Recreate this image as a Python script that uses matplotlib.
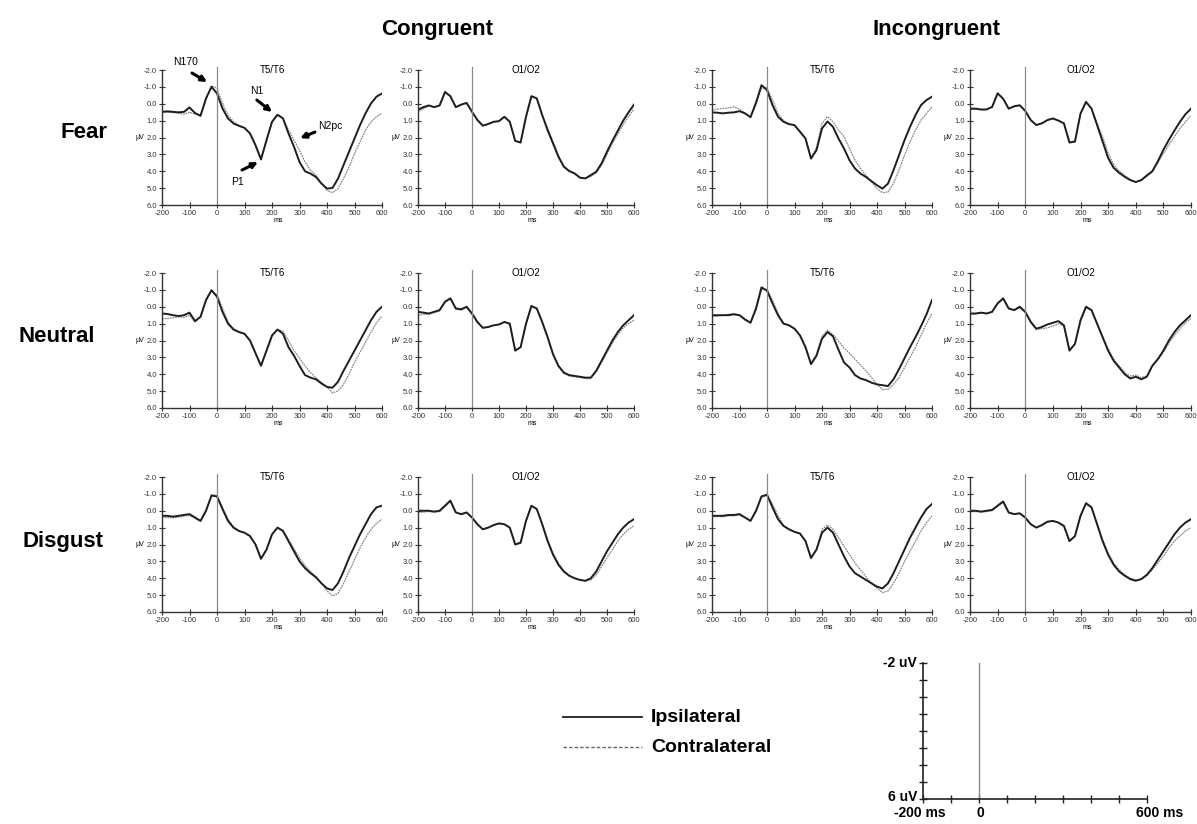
import numpy as np
import matplotlib.pyplot as plt
from matplotlib.lines import Line2D

plt.rcParams['font.family'] = ['Liberation Sans', 'DejaVu Sans']
plt.rcParams['axes.unicode_minus'] = False

# sample times (ms), one value every 20 ms
times_ms = list(range(-200, 601, 20))

# values in uV (negative is up)
# ---- Fear
fear_con_t56_ipsi = [0.48, 0.45, 0.48, 0.51, 0.48, 0.22, 0.55, 0.72, -0.32, -1.0, -0.61, 0.28, 0.87, 1.17, 1.31, 1.43, 1.76, 2.46, 3.3, 2.16, 1.07,
                     0.65, 0.87, 1.76, 2.55, 3.45, 4.0, 4.14, 4.34, 4.73, 5.03, 4.99, 4.44, 3.64, 2.85, 2.06, 1.27, 0.57, -0.02, -0.42, -0.61]
fear_con_t56_contra = [0.51, 0.5, 0.52, 0.56, 0.62, 0.5, 0.62, 0.63, -0.22, -1.07, -0.91, -0.02, 0.67, 1.07, 1.28, 1.42, 1.74, 2.42, 3.25, 2.2, 1.1,
                       0.66, 0.85, 1.56, 2.16, 2.75, 3.45, 3.94, 4.24, 4.73, 5.13, 5.27, 5.03, 4.44, 3.74, 2.95, 2.26, 1.56, 1.07, 0.77, 0.57]
fear_con_o12_ipsi = [0.35, 0.2, 0.1, 0.2, 0.1, -0.7, -0.45, 0.2, 0.05, -0.05, 0.47, 0.96, 1.3, 1.2, 1.07, 1.03, 0.77, 1.07, 2.2, 2.3, 0.77,
                     -0.45, -0.32, 0.67, 1.56, 2.35, 3.14, 3.73, 3.99, 4.13, 4.38, 4.42, 4.23, 4.03, 3.53, 2.84, 2.2, 1.6, 1.0, 0.5, 0.05]
fear_con_o12_contra = [0.45, 0.3, 0.12, 0.2, 0.12, -0.65, -0.42, 0.22, 0.07, -0.02, 0.5, 0.98, 1.3, 1.2, 1.08, 1.03, 0.8, 1.08, 2.2, 2.28, 0.8,
                       -0.42, -0.3, 0.65, 1.46, 2.25, 3.05, 3.68, 3.97, 4.13, 4.4, 4.44, 4.3, 4.1, 3.65, 3.0, 2.35, 1.8, 1.25, 0.75, 0.3]
fear_inc_t56_ipsi = [0.51, 0.53, 0.57, 0.53, 0.51, 0.44, 0.57, 0.8, -0.06, -1.1, -0.81, 0.08, 0.77, 1.07, 1.21, 1.27, 1.66, 2.06, 3.25, 2.75, 1.47,
                     1.05, 1.37, 2.06, 2.65, 3.35, 3.84, 4.14, 4.34, 4.59, 4.83, 5.03, 4.73, 3.94, 3.05, 2.16, 1.37, 0.67, 0.08, -0.22, -0.42]
fear_inc_t56_contra = [0.38, 0.32, 0.28, 0.24, 0.18, 0.32, 0.57, 0.78, 0.0, -0.91, -0.95, -0.22, 0.57, 1.0, 1.2, 1.25, 1.62, 2.05, 3.2, 2.6, 1.17,
                       0.77, 1.07, 1.56, 1.96, 2.65, 3.35, 3.84, 4.24, 4.63, 5.03, 5.27, 5.23, 4.73, 3.94, 3.05, 2.26, 1.56, 0.97, 0.57, 0.18]
fear_inc_o12_ipsi = [0.29, 0.29, 0.34, 0.34, 0.19, -0.62, -0.3, 0.29, 0.15, 0.09, 0.42, 0.97, 1.26, 1.16, 0.97, 0.87, 1.0, 1.16, 2.3, 2.24, 0.58,
                     -0.11, 0.29, 1.26, 2.24, 3.21, 3.8, 4.09, 4.33, 4.52, 4.64, 4.52, 4.25, 4.0, 3.41, 2.73, 2.14, 1.59, 1.07, 0.62, 0.29]
fear_inc_o12_contra = [0.35, 0.32, 0.36, 0.34, 0.2, -0.6, -0.28, 0.3, 0.17, 0.1, 0.45, 0.98, 1.27, 1.17, 0.98, 0.88, 1.0, 1.17, 2.28, 2.2, 0.6,
                       -0.1, 0.28, 1.16, 1.95, 2.92, 3.6, 4.0, 4.25, 4.5, 4.64, 4.55, 4.3, 4.05, 3.5, 2.96, 2.43, 1.95, 1.46, 1.07, 0.68]
# ---- Neutral
neu_con_t56_ipsi = [0.4, 0.43, 0.5, 0.55, 0.5, 0.35, 0.85, 0.6, -0.4, -0.98, -0.6, 0.3, 1.0, 1.35, 1.5, 1.6, 2.0, 2.75, 3.5, 2.6, 1.7,
                    1.35, 1.6, 2.4, 2.9, 3.5, 4.05, 4.2, 4.3, 4.55, 4.75, 4.8, 4.45, 3.8, 3.2, 2.6, 2.0, 1.4, 0.8, 0.3, 0.0]
neu_con_t56_contra = [0.7, 0.7, 0.65, 0.6, 0.63, 0.5, 0.9, 0.62, -0.35, -0.95, -0.7, 0.1, 0.9, 1.3, 1.48, 1.6, 2.0, 2.75, 3.45, 2.65, 1.75,
                      1.35, 1.45, 2.0, 2.6, 3.05, 3.5, 3.9, 4.2, 4.5, 4.75, 5.1, 5.0, 4.6, 4.0, 3.3, 2.7, 2.1, 1.5, 0.95, 0.55]
neu_con_o12_ipsi = [0.3, 0.35, 0.4, 0.3, 0.2, -0.3, -0.5, 0.1, 0.15, 0.0, 0.4, 0.9, 1.25, 1.2, 1.1, 1.05, 0.9, 1.0, 2.6, 2.4, 1.0,
                    -0.05, 0.1, 0.9, 1.8, 2.8, 3.5, 3.9, 4.05, 4.1, 4.15, 4.2, 4.2, 3.8, 3.2, 2.6, 2.0, 1.5, 1.1, 0.8, 0.5]
neu_con_o12_contra = [0.5, 0.45, 0.45, 0.35, 0.25, -0.25, -0.45, 0.15, 0.2, 0.05, 0.45, 0.95, 1.25, 1.2, 1.1, 1.05, 0.92, 1.05, 2.55, 2.4, 1.05,
                      0.0, 0.15, 0.95, 1.85, 2.85, 3.55, 3.95, 4.1, 4.15, 4.2, 4.25, 4.25, 3.85, 3.3, 2.7, 2.15, 1.65, 1.25, 1.0, 0.8]
neu_inc_t56_ipsi = [0.5, 0.5, 0.5, 0.5, 0.45, 0.5, 0.75, 0.95, 0.1, -1.15, -0.95, -0.2, 0.5, 1.0, 1.1, 1.3, 1.7, 2.4, 3.4, 2.9, 1.9,
                    1.5, 1.75, 2.55, 3.3, 3.6, 4.05, 4.25, 4.35, 4.5, 4.6, 4.65, 4.7, 4.3, 3.7, 3.05, 2.4, 1.8, 1.15, 0.45, -0.4]
neu_inc_t56_contra = [0.6, 0.55, 0.5, 0.45, 0.4, 0.5, 0.8, 0.95, 0.2, -1.0, -1.05, -0.4, 0.4, 0.95, 1.1, 1.3, 1.7, 2.35, 3.35, 2.8, 1.75,
                      1.4, 1.65, 2.05, 2.45, 2.75, 3.1, 3.45, 3.8, 4.2, 4.6, 4.9, 4.9, 4.6, 4.2, 3.6, 3.0, 2.4, 1.7, 1.0, 0.4]
neu_inc_o12_ipsi = [0.4, 0.4, 0.35, 0.4, 0.3, -0.2, -0.5, 0.1, 0.2, 0.0, 0.3, 0.9, 1.3, 1.2, 1.05, 0.95, 0.85, 1.1, 2.6, 2.2, 0.8,
                    0.0, 0.2, 1.0, 1.8, 2.6, 3.2, 3.6, 4.0, 4.25, 4.15, 4.3, 4.15, 3.5, 3.1, 2.6, 2.0, 1.5, 1.1, 0.8, 0.5]
neu_inc_o12_contra = [0.45, 0.42, 0.38, 0.4, 0.32, -0.18, -0.45, 0.12, 0.22, 0.05, 0.35, 0.95, 1.35, 1.3, 1.25, 1.15, 1.0, 1.15, 2.55, 2.2, 0.85,
                      0.05, 0.22, 1.0, 1.75, 2.5, 3.1, 3.5, 3.9, 4.1, 4.05, 4.2, 4.1, 3.5, 3.15, 2.7, 2.15, 1.7, 1.3, 0.95, 0.7]
# ---- Disgust
dis_con_t56_ipsi = [0.3, 0.3, 0.35, 0.3, 0.25, 0.2, 0.4, 0.6, 0.0, -0.9, -0.85, -0.1, 0.6, 1.0, 1.2, 1.3, 1.5, 2.0, 2.85, 2.3, 1.4,
                    1.0, 1.2, 1.8, 2.4, 3.0, 3.4, 3.7, 3.95, 4.3, 4.6, 4.7, 4.3, 3.6, 2.8, 2.1, 1.4, 0.8, 0.2, -0.2, -0.3]
dis_con_t56_contra = [0.4, 0.4, 0.42, 0.38, 0.32, 0.28, 0.45, 0.62, 0.05, -0.95, -0.9, -0.2, 0.5, 0.95, 1.2, 1.3, 1.5, 2.0, 2.8, 2.3, 1.4,
                      1.0, 1.15, 1.7, 2.25, 2.8, 3.25, 3.6, 3.9, 4.3, 4.75, 5.05, 4.9, 4.3, 3.6, 2.9, 2.2, 1.6, 1.1, 0.75, 0.5]
dis_con_o12_ipsi = [0.0, 0.0, 0.0, 0.05, 0.0, -0.3, -0.6, 0.1, 0.2, 0.1, 0.4, 0.8, 1.1, 1.0, 0.85, 0.75, 0.8, 1.0, 2.0, 1.9, 0.6,
                    -0.3, -0.1, 0.8, 1.8, 2.6, 3.2, 3.6, 3.85, 4.0, 4.1, 4.15, 4.0, 3.6, 3.0, 2.4, 1.9, 1.4, 1.0, 0.7, 0.5]
dis_con_o12_contra = [0.1, 0.08, 0.05, 0.08, 0.05, -0.25, -0.55, 0.12, 0.22, 0.12, 0.42, 0.82, 1.1, 1.0, 0.85, 0.78, 0.82, 1.02, 1.95, 1.85, 0.62,
                      -0.28, -0.1, 0.75, 1.7, 2.5, 3.1, 3.55, 3.85, 4.0, 4.1, 4.15, 4.1, 3.8, 3.3, 2.8, 2.3, 1.8, 1.4, 1.1, 0.9]
dis_inc_t56_ipsi = [0.3, 0.3, 0.3, 0.25, 0.25, 0.2, 0.4, 0.6, 0.0, -0.85, -0.95, -0.2, 0.5, 0.9, 1.1, 1.25, 1.35, 1.8, 2.8, 2.3, 1.3,
                    1.0, 1.3, 2.0, 2.7, 3.3, 3.7, 3.9, 4.1, 4.3, 4.5, 4.6, 4.3, 3.7, 3.0, 2.3, 1.6, 1.0, 0.4, -0.1, -0.4]
dis_inc_t56_contra = [0.35, 0.35, 0.35, 0.3, 0.3, 0.25, 0.42, 0.6, 0.05, -0.8, -0.9, -0.4, 0.3, 0.85, 1.1, 1.25, 1.35, 1.8, 2.75, 2.3, 1.1,
                      0.85, 1.1, 1.6, 2.1, 2.6, 3.1, 3.5, 3.9, 4.3, 4.6, 4.85, 4.75, 4.3, 3.7, 3.0, 2.4, 1.8, 1.2, 0.7, 0.3]
dis_inc_o12_ipsi = [0.0, 0.0, 0.05, 0.0, -0.05, -0.3, -0.55, 0.1, 0.2, 0.15, 0.4, 0.8, 1.0, 0.85, 0.65, 0.6, 0.7, 0.9, 1.8, 1.5, 0.3,
                    -0.45, -0.2, 0.8, 1.8, 2.6, 3.2, 3.6, 3.85, 4.05, 4.15, 4.05, 3.8, 3.4, 2.9, 2.4, 1.9, 1.4, 1.0, 0.7, 0.5]
dis_inc_o12_contra = [0.05, 0.05, 0.08, 0.05, 0.0, -0.25, -0.5, 0.12, 0.22, 0.17, 0.42, 0.82, 1.0, 0.87, 0.68, 0.62, 0.72, 0.92, 1.78, 1.5, 0.35,
                      -0.42, -0.18, 0.75, 1.7, 2.5, 3.1, 3.5, 3.8, 4.0, 4.1, 4.05, 3.85, 3.5, 3.1, 2.7, 2.2, 1.8, 1.5, 1.2, 1.0]

row_names = ['Fear', 'Neutral', 'Disgust']
col_names = ['Congruent', 'Incongruent']
sites = ['T5/T6', 'O1/O2', 'T5/T6', 'O1/O2']
xticks_ms = [-200, -100, 0, 100, 200, 300, 400, 500, 600]
yticks_uv = [-2.0, -1.0, 0.0, 1.0, 2.0, 3.0, 4.0, 5.0, 6.0]

waves = [
    [(fear_con_t56_ipsi, fear_con_t56_contra), (fear_con_o12_ipsi, fear_con_o12_contra),
     (fear_inc_t56_ipsi, fear_inc_t56_contra), (fear_inc_o12_ipsi, fear_inc_o12_contra)],
    [(neu_con_t56_ipsi, neu_con_t56_contra), (neu_con_o12_ipsi, neu_con_o12_contra),
     (neu_inc_t56_ipsi, neu_inc_t56_contra), (neu_inc_o12_ipsi, neu_inc_o12_contra)],
    [(dis_con_t56_ipsi, dis_con_t56_contra), (dis_con_o12_ipsi, dis_con_o12_contra),
     (dis_inc_t56_ipsi, dis_inc_t56_contra), (dis_inc_o12_ipsi, dis_inc_o12_contra)],
]

W, H = 1197, 824
fig = plt.figure(figsize=(W / 100, H / 100), dpi=100)
fig.patch.set_facecolor('white')

IPSI = dict(color='#1e1e1e', lw=1.4, solid_joinstyle='round')
CONTRA = dict(color='#858585', lw=0.9, ls=(0, (1.4, 0.7)))
ZERO = '#8a8a8a'


def px_axes(x0, y0, x1, y1):
    return fig.add_axes([x0 / W, 1 - y1 / H, (x1 - x0) / W, (y1 - y0) / H])


def ftext(x, y, s, **kw):
    fig.text(x / W, 1 - y / H, s, **kw)


col_px = [(162, 382), (418, 634), (712, 932), (970, 1191)]
row_px = [(70, 205), (273, 408), (477, 612)]

axes = {}
for r, (y0, y1) in enumerate(row_px):
    for c, (x0, x1) in enumerate(col_px):
        ax = px_axes(x0, y0, x1, y1)
        ipsi, contra = waves[r][c]
        ax.plot(times_ms, contra, **CONTRA)
        ax.plot(times_ms, ipsi, **IPSI)
        ax.plot([0, 0], [6, -2.2], color=ZERO, lw=0.9, clip_on=False)
        ax.set_xlim(-200, 600)
        ax.set_ylim(6, -2)
        for s in ['top', 'right']:
            ax.spines[s].set_visible(False)
        for s in ['left', 'bottom']:
            ax.spines[s].set_linewidth(1.0)
            ax.spines[s].set_color('#333333')
        ax.set_xticks(xticks_ms)
        ax.set_yticks(yticks_uv)
        ax.set_yticklabels([f'{v:.1f}' for v in yticks_uv])
        ax.tick_params(direction='inout', length=4, width=0.8, labelsize=5.5,
                       pad=1.5, colors='#333333')
        ax.set_facecolor('none')
        ax.text(0.5, 1.0, sites[c], transform=ax.transAxes, ha='center',
                va='center', fontsize=7)
        ax.text(-0.08, 0.5, 'µV', transform=ax.transAxes, ha='right',
                va='center', fontsize=5)
        ax.text(0.53, -0.115, 'ms', transform=ax.transAxes, ha='center',
                va='center', fontsize=5)
        axes[(r, c)] = ax

# component labels in the first panel
ax = axes[(0, 0)]
arrow = dict(arrowstyle='-|>', color='black', lw=2.2, mutation_scale=8,
             shrinkA=0, shrinkB=0)
comps = [('N170', (-113, -2.47), (-91, -1.82), (-36, -1.29)),
         ('N1', (145, -0.75), (145, -0.22), (200, 0.49)),
         ('N2pc', (411, 1.32), (356, 1.68), (302, 2.04)),
         ('P1', (73, 4.65), (91, 3.93), (149, 3.46))]
for name, tpos, tail, head in comps:
    ax.annotate('', xy=head, xytext=tail, arrowprops=arrow, annotation_clip=False)
    ax.text(tpos[0], tpos[1], name, ha='center', va='center', fontsize=7.5,
            clip_on=False)

# headers
ftext(437, 30, col_names[0], ha='center', va='center', fontsize=16, fontweight='bold')
ftext(937, 30, col_names[1], ha='center', va='center', fontsize=16, fontweight='bold')
for name, (x, y) in zip(row_names, [(84, 133), (57, 337), (63, 541)]):
    ftext(x, y, name, ha='center', va='center', fontsize=16, fontweight='bold')

# legend
fig.add_artist(Line2D([563 / W, 642 / W], [1 - 717 / H] * 2, color='#1e1e1e', lw=1.3))
fig.add_artist(Line2D([563 / W, 642 / W], [1 - 747 / H] * 2, color='#666666', lw=1.0,
                      ls=(0, (2.5, 1.5))))
ftext(651, 717, 'Ipsilateral', ha='left', va='center', fontsize=14, fontweight='bold')
ftext(651, 747, 'Contralateral', ha='left', va='center', fontsize=14, fontweight='bold')

# scale bar
sb = px_axes(923, 663, 1147, 799)
sb.set_xlim(-200, 600)
sb.set_ylim(6, -2)
sb.plot([0, 0], [6, -2], color=ZERO, lw=1.0)
for s in ['top', 'right']:
    sb.spines[s].set_visible(False)
for s in ['left', 'bottom']:
    sb.spines[s].set_linewidth(1.2)
    sb.spines[s].set_color('#222222')
sb.set_xticks(xticks_ms)
sb.set_yticks(yticks_uv)
sb.set_xticklabels([])
sb.set_yticklabels([])
sb.tick_params(direction='inout', length=6, width=1.0, colors='#222222')
sb.set_facecolor('none')
ftext(917, 663, '-2 uV', ha='right', va='center', fontsize=10, fontweight='bold')
ftext(917, 797, '6 uV', ha='right', va='center', fontsize=10, fontweight='bold')
ftext(920, 813, '-200 ms', ha='center', va='center', fontsize=10, fontweight='bold')
ftext(980, 813, '0', ha='center', va='center', fontsize=10, fontweight='bold')
ftext(1160, 813, '600 ms', ha='center', va='center', fontsize=10, fontweight='bold')

fig.savefig('out.png', dpi=100, facecolor='white')
